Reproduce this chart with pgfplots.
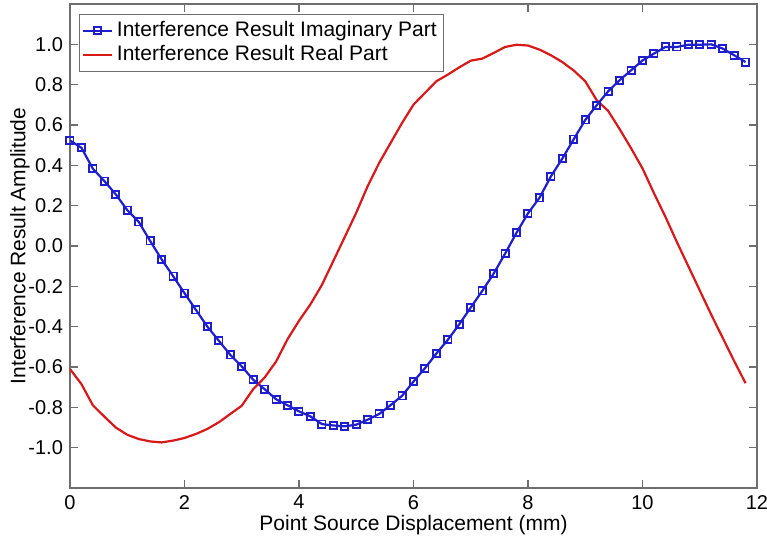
\documentclass[border=0pt]{standalone}
\usepackage{fontspec}
\setmainfont{Liberation Sans}
\usepackage{pgfplots}
\pgfplotsset{compat=1.18}

\definecolor{mblue}{RGB}{30,30,205}
\definecolor{mred}{RGB}{215,25,25}
\definecolor{axgray}{RGB}{110,110,110}

\pgfplotstableread{
x y
0.0 0.523
0.2 0.487
0.4 0.383
0.6 0.322
0.8 0.256
1.0 0.178
1.2 0.120
1.4 0.025
1.6 -0.066
1.8 -0.149
2.0 -0.234
2.2 -0.317
2.4 -0.400
2.6 -0.470
2.8 -0.540
3.0 -0.597
3.2 -0.663
3.4 -0.710
3.6 -0.760
3.8 -0.790
4.0 -0.820
4.2 -0.845
4.4 -0.883
4.6 -0.890
4.8 -0.894
5.0 -0.886
5.2 -0.861
5.4 -0.833
5.6 -0.789
5.8 -0.743
6.0 -0.672
6.2 -0.606
6.4 -0.533
6.6 -0.465
6.8 -0.388
7.0 -0.305
7.2 -0.223
7.4 -0.137
7.6 -0.038
7.8 0.066
8.0 0.162
8.2 0.239
8.4 0.345
8.6 0.434
8.8 0.530
9.0 0.625
9.2 0.698
9.4 0.767
9.6 0.822
9.8 0.871
10.0 0.920
10.2 0.954
10.4 0.987
10.6 0.987
10.8 0.998
11.0 0.998
11.2 1.000
11.4 0.979
11.6 0.946
11.8 0.912
}\imagpart

\pgfplotstableread{
x y
0.0 -0.610
0.2 -0.685
0.4 -0.790
0.6 -0.846
0.8 -0.900
1.0 -0.936
1.2 -0.957
1.4 -0.969
1.6 -0.974
1.8 -0.965
2.0 -0.952
2.2 -0.932
2.4 -0.907
2.6 -0.874
2.8 -0.833
3.0 -0.792
3.2 -0.710
3.4 -0.652
3.6 -0.573
3.8 -0.462
4.0 -0.371
4.2 -0.289
4.4 -0.193
4.6 -0.074
4.8 0.045
5.0 0.165
5.2 0.297
5.4 0.412
5.6 0.511
5.8 0.610
6.0 0.701
6.2 0.759
6.4 0.817
6.6 0.850
6.8 0.886
7.0 0.919
7.2 0.929
7.4 0.957
7.6 0.987
7.8 0.998
8.0 0.994
8.2 0.974
8.4 0.946
8.6 0.912
8.8 0.870
9.0 0.817
9.2 0.723
9.4 0.670
9.6 0.580
9.8 0.485
10.0 0.385
10.2 0.262
10.4 0.145
10.6 0.020
10.8 -0.100
11.0 -0.220
11.2 -0.340
11.4 -0.455
11.6 -0.570
11.8 -0.680
}\realpart

\begin{document}
\begin{tikzpicture}
\begin{axis}[
    scale only axis,
    width=343.5pt, height=242pt,
    xmin=0, xmax=12,
    ymin=-1.2, ymax=1.2,
    xtick={0,2,...,12},
    ytick={-1.0,-0.8,...,1.01},
    yticklabel style={/pgf/number format/.cd,fixed,fixed zerofill,precision=1},
    /pgf/number format/assume math mode=true,
    tick align=inside,
    major tick length=4pt,
    axis line style={axgray, line width=0.6pt},
    tick style={axgray, line width=0.6pt},
    ticklabel style={font=\fontsize{10}{12}\selectfont},
    label style={font=\fontsize{10.5}{12}\selectfont},
    xlabel={Point Source Displacement (mm)},
    ylabel={Interference Result Amplitude},
    xlabel style={at={(axis description cs:0.5,-0.077)}, anchor=center},
    ylabel style={at={(axis description cs:-0.0728,0.5)}, anchor=center},
    legend cell align=left,
    legend style={at={(0.013,0.979)}, anchor=north west,
        font=\fontsize{10.5}{13}\selectfont, draw=axgray,
        inner sep=1.5pt, row sep=-1pt},
    legend image code/.code={
        \draw[mark repeat=2,mark phase=2,#1]
        plot coordinates {(0cm,0cm) (0.25cm,0cm) (0.5cm,0cm)};},
]
\addplot[mblue, line width=1.1pt, mark=square, mark size=1.8pt,
    mark options={line width=0.9pt}] table {\imagpart};
\addlegendentry{Interference Result Imaginary Part}
\addplot[mred, line width=1.1pt] table {\realpart};
\addlegendentry{Interference Result Real Part}
\coordinate (ll) at (rel axis cs:0,0);
\coordinate (ur) at (rel axis cs:1,1);
\end{axis}
\pgfresetboundingbox
\path ([shift={(-35pt,-27pt)}]ll) rectangle ([shift={(5pt,2pt)}]ur);
\end{tikzpicture}
\end{document}
